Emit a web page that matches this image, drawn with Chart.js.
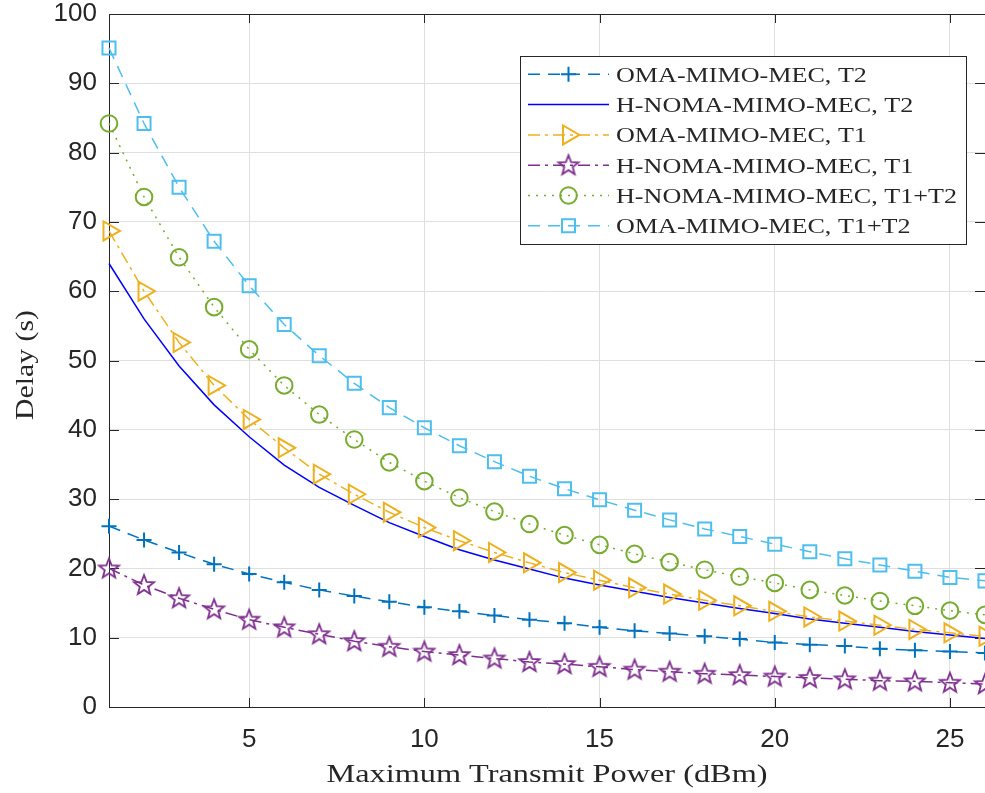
<!DOCTYPE html>
<html>
<head>
<meta charset="utf-8">
<script src="https://cdn.jsdelivr.net/npm/chart.js@4.4.1/dist/chart.umd.min.js"></script>
<style>
html,body{margin:0;padding:0;background:#fff;overflow:hidden}
#wrap{width:985px;height:793px;position:relative}
</style>
</head>
<body>
<div id="wrap"><canvas id="c" width="985" height="793"></canvas></div>
<script>
// ---- data ----
const power = [1,2,3,4,5,6,7,8,9,10,11,12,13,14,15,16,17,18,19,20,21,22,23,24,25,26];
const omaT2   = [26.1,24.1,22.3,20.6,19.2,18.0,16.9,16.0,15.2,14.4,13.8,13.2,12.6,12.1,11.5,11.0,10.6,10.2,9.8,9.3,9.0,8.8,8.4,8.2,8.0,7.8];
const nomaT2  = [64.0,56.0,49.2,43.6,39.0,34.9,31.7,29.1,26.6,24.6,22.7,21.2,19.9,18.6,17.6,16.7,15.8,15.0,14.2,13.5,12.7,12.1,11.5,10.9,10.4,9.9];
const omaT1   = [68.7,60.0,52.6,46.4,41.5,37.4,33.6,30.7,28.1,25.9,24.0,22.3,20.8,19.4,18.3,17.2,16.3,15.4,14.6,13.8,13.0,12.4,11.8,11.2,10.7,10.2];
const nomaT1  = [20.0,17.6,15.7,14.1,12.6,11.5,10.5,9.5,8.7,8.0,7.5,7.0,6.5,6.2,5.8,5.4,5.1,4.8,4.6,4.4,4.2,4.0,3.8,3.7,3.5,3.3];
const nomaSum = [84.2,73.6,64.9,57.7,51.6,46.4,42.2,38.6,35.3,32.6,30.2,28.2,26.4,24.8,23.4,22.1,20.9,19.8,18.8,17.9,16.9,16.1,15.3,14.6,13.9,13.3];
const omaSum  = [95.1,84.2,75.0,67.2,60.8,55.2,50.7,46.7,43.2,40.3,37.7,35.4,33.3,31.5,29.9,28.4,27.0,25.7,24.6,23.5,22.4,21.4,20.5,19.6,18.7,18.2];
const seriesNames = [
  'OMA-MIMO-MEC, T2',
  'H-NOMA-MIMO-MEC, T2',
  'OMA-MIMO-MEC, T1',
  'H-NOMA-MIMO-MEC, T1',
  'H-NOMA-MIMO-MEC, T1+T2',
  'OMA-MIMO-MEC, T1+T2'
];
const xTicks = [5,10,15,20,25];
const yTicks = [0,10,20,30,40,50,60,70,80,90,100];
const xTitle = 'Maximum Transmit Power (dBm)';
const yTitle = 'Delay (s)';

// ---- styles ----
const AX = '#262626';
const GRID = '#dfdfdf';
const SERIF = '"Liberation Serif", "Times New Roman", serif';

function makeStar(color) {
  const c = document.createElement('canvas');
  c.width = 26; c.height = 26;
  const g = c.getContext('2d');
  const R = 10.5, r = R * 0.42, cx = 13, cy = 13.5;
  g.beginPath();
  for (let i = 0; i < 10; i++) {
    const a = -Math.PI / 2 + i * Math.PI / 5;
    const rr = i % 2 === 0 ? R : r;
    const px = cx + rr * Math.cos(a), py = cy + rr * Math.sin(a);
    if (i === 0) g.moveTo(px, py); else g.lineTo(px, py);
  }
  g.closePath();
  g.strokeStyle = color;
  g.lineWidth = 1.8;
  g.lineJoin = 'miter';
  g.stroke();
  return c;
}
const starImg = makeStar('#7E2F8E');

function pts(arr) { return power.map((p, i) => ({x: p, y: arr[i]})); }

const styles = [
  {color:'#0072BD', dash:[12,8], ps:'cross', r:7.5, rot:0},
  {color:'#0000FF', dash:[], ps:false, r:0, rot:0},
  {color:'#EDB120', dash:[12,5,3,5], ps:'triangle', r:11, rot:90},
  {color:'#7E2F8E', dash:[12,5,3,5], ps:starImg, r:10, rot:0},
  {color:'#77AC30', dash:[2,6], ps:'circle', r:8.3, rot:0},
  {color:'#4DBEEE', dash:[12,8], ps:'rect', r:9.2, rot:0}
];
const seriesData = [omaT2, nomaT2, omaT1, nomaT1, nomaSum, omaSum];

const datasets = seriesData.map((arr, i) => {
  const s = styles[i];
  return {
    label: seriesNames[i],
    data: pts(arr),
    borderColor: s.color,
    backgroundColor: 'rgba(0,0,0,0)',
    borderWidth: 1.5,
    borderDash: s.dash,
    pointStyle: s.ps === false ? 'circle' : s.ps,
    pointRadius: s.r,
    pointRotation: s.rot,
    pointBorderColor: s.color,
    pointBackgroundColor: 'rgba(0,0,0,0)',
    pointBorderWidth: 2,
    pointHoverRadius: s.r,
    tension: 0,
    fill: false,
    clip: false,
    order: 5 - i
  };
});

function drawStretched(ctx, text, x, y, font, targetW) {
  ctx.save();
  ctx.font = font;
  const w = ctx.measureText(text).width;
  ctx.translate(x, y);
  ctx.scale(targetW / w, 1);
  ctx.fillText(text, 0, 0);
  ctx.restore();
}

const decor = {
  id: 'decor',
  beforeDatasetsDraw(chart) {
    const {ctx, chartArea: a, scales} = chart;
    ctx.save();
    ctx.strokeStyle = AX;
    ctx.lineWidth = 1;
    ctx.setLineDash([]);
    ctx.beginPath();
    ctx.moveTo(a.left, Math.round(a.top) + 0.5);
    ctx.lineTo(a.right, Math.round(a.top) + 0.5);
    xTicks.forEach(v => {
      const px = Math.round(scales.x.getPixelForValue(v)) + 0.5;
      ctx.moveTo(px, a.bottom); ctx.lineTo(px, a.bottom - 9);
      ctx.moveTo(px, a.top); ctx.lineTo(px, a.top + 9);
    });
    yTicks.forEach(v => {
      const py = Math.round(scales.y.getPixelForValue(v)) + 0.5;
      ctx.moveTo(a.left, py); ctx.lineTo(a.left + 10, py);
      ctx.moveTo(a.right, py); ctx.lineTo(a.right - 10, py);
    });
    ctx.stroke();
    ctx.restore();
  },
  afterDraw(chart) {
    const {ctx, chartArea: a} = chart;
    ctx.save();
    ctx.fillStyle = AX;
    ctx.textBaseline = 'alphabetic';
    ctx.textAlign = 'center';
    drawStretched(ctx, xTitle, (a.left + a.right) / 2, 782, '25px ' + SERIF, 441);
    ctx.save();
    ctx.translate(33, 365);
    ctx.rotate(-Math.PI / 2);
    drawStretched(ctx, yTitle, 0, 0, '26px ' + SERIF, 110);
    ctx.restore();

    // legend
    const bx = 520.5, by = 56.5, bw = 446, bh = 188;
    ctx.fillStyle = '#ffffff';
    ctx.fillRect(bx, by, bw, bh);
    ctx.strokeStyle = AX;
    ctx.lineWidth = 1;
    ctx.setLineDash([]);
    ctx.strokeRect(bx, by, bw, bh);
    const legFont = '22px ' + SERIF;
    ctx.font = legFont;
    const longest = seriesNames.reduce((m, t) => Math.max(m, ctx.measureText(t).width), 0);
    const sx = 341 / longest;
    seriesNames.forEach((name, i) => {
      const s = styles[i];
      const ry = 74.3 + i * 30.3;
      ctx.save();
      ctx.strokeStyle = s.color;
      ctx.lineWidth = 1.5;
      ctx.setLineDash(s.dash);
      ctx.beginPath();
      ctx.moveTo(528, ry); ctx.lineTo(609, ry);
      ctx.stroke();
      ctx.setLineDash([]);
      if (s.ps !== false) {
        ctx.strokeStyle = s.color;
        ctx.fillStyle = 'rgba(0,0,0,0)';
        ctx.lineWidth = 2;
        Chart.helpers.drawPoint(ctx, {pointStyle: s.ps, radius: s.r, rotation: s.rot, borderWidth: 2}, 568.5, ry);
      }
      ctx.restore();
      ctx.save();
      ctx.fillStyle = AX;
      ctx.font = legFont;
      ctx.textAlign = 'left';
      ctx.translate(616, ry + 7.4);
      ctx.scale(sx, 1);
      ctx.fillText(name, 0, 0);
      ctx.restore();
    });
    ctx.restore();
  }
};

new Chart(document.getElementById('c'), {
  type: 'line',
  data: { datasets },
  options: {
    responsive: false,
    animation: false,
    devicePixelRatio: 1,
    layout: { autoPadding: false, padding: { top: 14, right: 0, left: 0, bottom: 0 } },
    plugins: { legend: { display: false }, tooltip: { enabled: false } },
    events: [],
    scales: {
      x: {
        type: 'linear', min: 1, max: 26,
        afterBuildTicks: s => { s.ticks = xTicks.map(v => ({value: v})); },
        afterFit: s => { s.height = 86; s.paddingLeft = 0; s.paddingRight = 0; s.paddingTop = 0; s.paddingBottom = 0; },
        grid: { color: GRID, lineWidth: 1, drawTicks: false },
        border: { display: true, color: AX, width: 1 },
        ticks: { color: AX, padding: 20, maxRotation: 0, autoSkip: false,
                 font: { family: '"Liberation Sans", Arial, sans-serif', size: 26, lineHeight: 1 } }
      },
      y: {
        type: 'linear', min: 0, max: 100,
        afterBuildTicks: s => { s.ticks = yTicks.map(v => ({value: v})); },
        afterFit: s => { s.width = 109; s.paddingTop = 0; s.paddingBottom = 0; s.paddingLeft = 0; s.paddingRight = 0; },
        grid: { color: GRID, lineWidth: 1, drawTicks: false },
        border: { display: true, color: AX, width: 1 },
        ticks: { color: AX, padding: 12, autoSkip: false,
                 font: { family: '"Liberation Sans", Arial, sans-serif', size: 26, lineHeight: 1 } }
      }
    }
  },
  plugins: [decor]
});
</script>
</body>
</html>
